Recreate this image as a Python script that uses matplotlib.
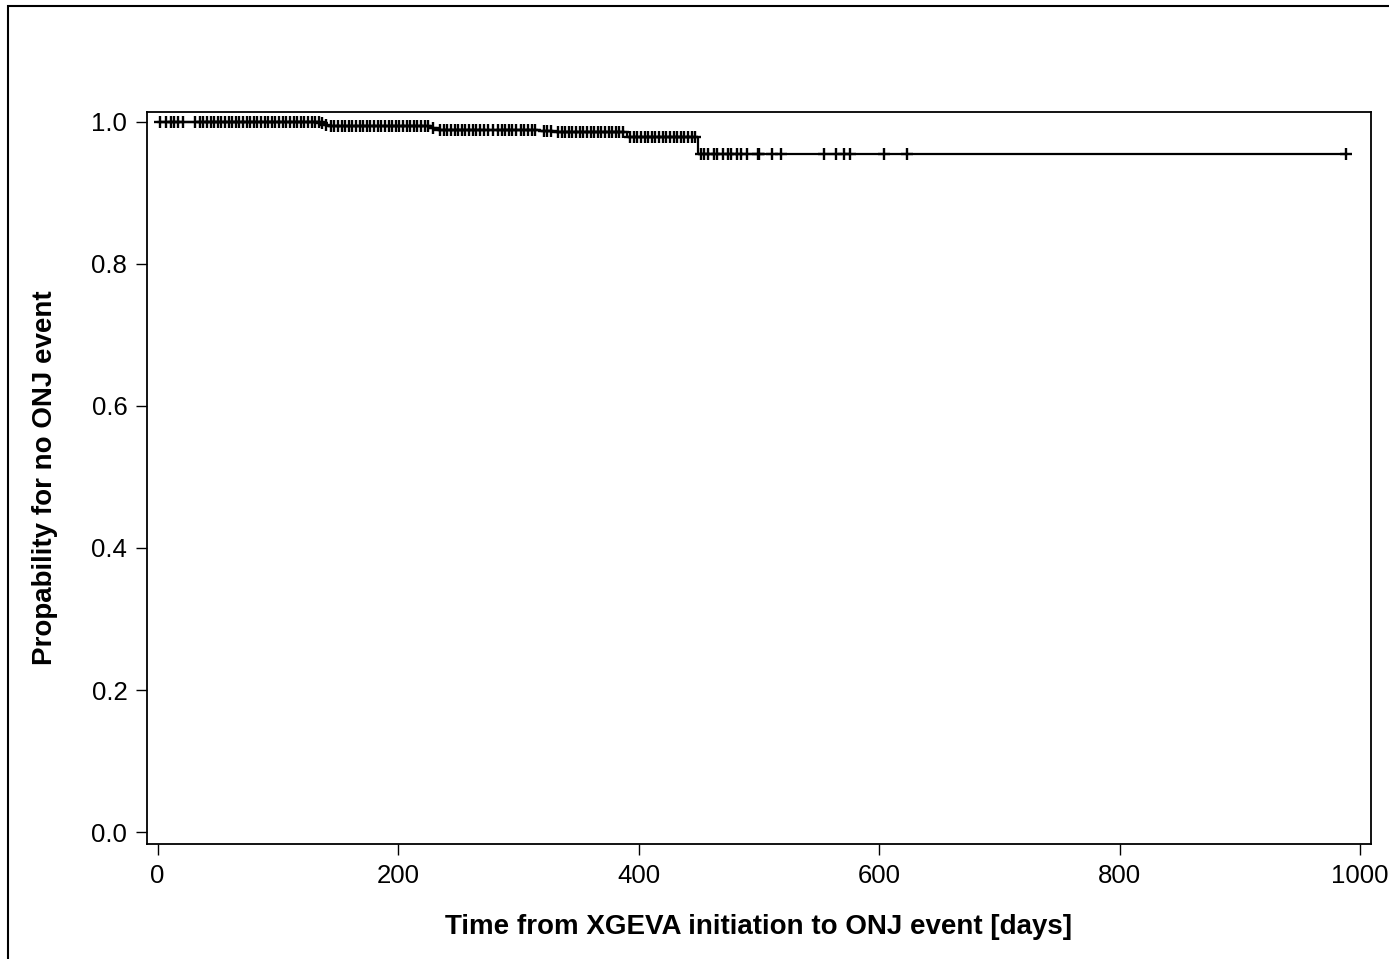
import numpy as np
import matplotlib.pyplot as plt
import matplotlib as mpl
from matplotlib.patches import Rectangle

mpl.rcParams['font.family'] = ['Liberation Sans', 'DejaVu Sans']

# Kaplan-Meier estimate: event days and survival just after each event
event_days = [135, 138, 142, 226, 232, 318, 330, 390, 449]
surv_after = [0.9975, 0.995, 0.9935, 0.991, 0.989, 0.987, 0.985, 0.979, 0.955]

# censored observation times (days)
censor_days = [2, 7, 11, 14, 17, 21, 31, 35, 38, 41, 44, 47, 50, 53, 56, 59,
               62, 65, 68, 71, 74, 77, 80, 83, 86, 89, 92, 95, 98, 101, 104,
               107, 110, 113, 116, 119, 122, 125, 128, 131, 134, 137, 140,
               144, 147, 150, 153, 156, 159, 162, 165, 168, 171, 174, 177,
               180, 183, 186, 189, 192, 195, 198, 201, 204, 207, 210, 213,
               216, 219, 222, 225, 229, 235, 238, 241, 244, 247, 250, 253,
               256, 259, 262, 265, 268, 271, 275, 279, 283, 286, 289, 292,
               295, 298, 302, 305, 308, 311, 314, 321, 324, 327, 333, 336,
               339, 342, 345, 348, 351, 354, 357, 360, 363, 366, 369, 372,
               375, 378, 381, 384, 387, 393, 396, 399, 402, 405, 408, 411,
               414, 417, 420, 423, 426, 429, 432, 435, 438, 441, 444, 447,
               452, 454, 458, 463, 465, 470, 474, 477, 482, 485, 490, 499,
               500, 511, 518, 554, 564, 571, 576, 604, 623, 988]

x_ticks = [0, 200, 400, 600, 800, 1000]
y_ticks = [0.0, 0.2, 0.4, 0.6, 0.8, 1.0]


def surv_at(t):
    s = 1.0
    for d, v in zip(event_days, surv_after):
        if d <= t:
            s = v
    return s


step_x = [0] + event_days + [max(censor_days)]
step_y = [1.0] + surv_after + [surv_after[-1]]
censor_y = [surv_at(t) for t in censor_days]

fig = plt.figure(figsize=(13.89, 9.59), dpi=100)
ax = fig.add_axes([146.7 / 1389, 1 - 844.3 / 959, (1370.7 - 146.7) / 1389, (844.3 - 111.7) / 959])

ax.step(step_x, step_y, where='post', color='black', lw=1.6)
ax.plot(censor_days, censor_y, ls='none', marker='+', ms=9, mew=1.7, color='black')

ax.set_xlim(-9.1, 1008.8)
ax.set_ylim(-0.0172, 1.0141)
ax.set_xticks(x_ticks)
ax.set_yticks(y_ticks)
ax.set_xticklabels([str(v) for v in x_ticks])
ax.set_yticklabels(['%.1f' % v for v in y_ticks])
ax.tick_params(direction='out', length=8, width=1, labelsize=18.5, pad=6, color='black')
for s in ax.spines.values():
    s.set_linewidth(1.3)

ax.set_xlabel('Time from XGEVA initiation to ONJ event [days]', fontsize=20,
              fontweight='bold', labelpad=19)
ax.set_ylabel('Propability for no ONJ event', fontsize=20,
              fontweight='bold', labelpad=24)

# outer border of the graph area
fig.patches.append(Rectangle((8 / 1389, -0.1), 1.2, 1 - 6 / 959 + 0.1,
                             transform=fig.transFigure, fill=False,
                             edgecolor='black', lw=1.5))

fig.savefig('out.png', dpi=100)
